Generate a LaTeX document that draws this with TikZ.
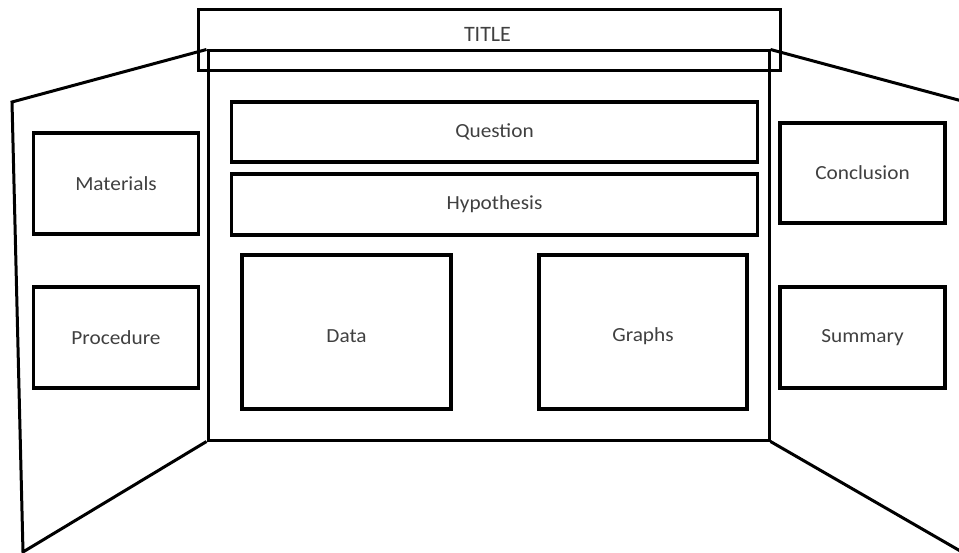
\documentclass[tikz,border=0pt]{standalone}
\usepackage{fontspec}
\setmainfont{Carlito}
\definecolor{txt}{RGB}{64,64,64}
\newcommand{\lbl}[1]{\scalebox{1.065}[1]{#1}}
\newcommand{\lowlbl}[1]{\raisebox{-4pt}[\height][\depth]{\lbl{#1}}}
\begin{document}
\begin{tikzpicture}[x=1pt,y=-1pt,
  box/.style={draw=black, line width=3.6pt, inner sep=0pt,
    font=\fontsize{20}{23}\selectfont, text=txt},
  edge/.style={draw=black, line width=3pt, line join=miter}]
\useasboundingbox (0,0) rectangle (959,553);
% centre panel
\node[edge, minimum width=561pt, minimum height=389pt, inner sep=0pt] (panel) at (488.5,245.5) {};
% title
\node[draw=black, line width=3pt, minimum width=582pt, minimum height=61pt, inner sep=0pt] (title) at (489,40.5) {};
\node[font=\fontsize{22}{25}\selectfont, text=txt, anchor=base, inner sep=0pt] (titletext) at (487.5,42) {TITLE};
% wing corners
\coordinate (ltop) at (12,102);
\coordinate (lbot) at (23,552);
\coordinate (rtop) at (962,101);
\coordinate (rbot) at (962,552);
\draw[edge] (panel.north west) -- (ltop) -- (lbot) -- (panel.south west);
\draw[edge] (panel.north east) -- (rtop);
\draw[edge] (panel.south east) -- (rbot);
% boxes
\node[box, minimum width=526pt, minimum height=60pt] (question) at (494.5,132) {\lbl{Question}};
\node[box, minimum width=526pt, minimum height=61pt] (hypothesis) at (494.5,204.5) {\lbl{Hypothesis}};
\node[box, minimum width=165pt, minimum height=101pt] (materials) at (116,183.5) {\lbl{Materials}};
\node[box, minimum width=165pt, minimum height=101pt] (procedure) at (116,337.5) {\lbl{Procedure}};
\node[box, minimum width=165pt, minimum height=100pt] (conclusion) at (862.5,173) {\lbl{Conclusion}};
\node[box, minimum width=165pt, minimum height=101pt] (summary) at (862.5,337.5) {\lbl{Summary}};
\node[box, minimum width=209pt, minimum height=154pt] (data) at (346.5,332) {\lowlbl{Data}};
\node[box, minimum width=208pt, minimum height=154pt] (graphs) at (643,332) {\lowlbl{Graphs}};
\end{tikzpicture}
\end{document}
